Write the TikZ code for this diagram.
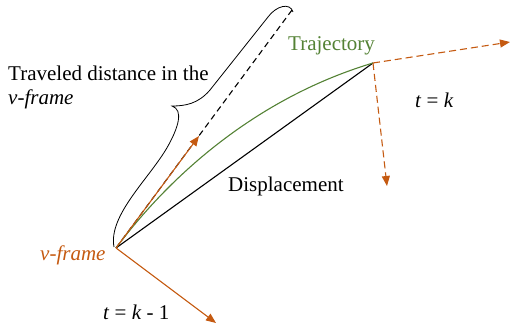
\documentclass[tikz,border=0pt]{standalone}
\usepackage{fontspec}
\setmainfont{Liberation Serif}[ItalicFont={Liberation Serif Italic}, BoldFont={Liberation Serif Bold}]
\usetikzlibrary{arrows.meta}
\definecolor{orng}{HTML}{C55A11}
\definecolor{grn}{HTML}{548235}
\tikzset{
  lbl/.style={inner sep=0pt, font=\fontsize{21}{24}\selectfont, anchor=base west},
  oarrow/.style={draw=orng, line width=1.1pt, -{Triangle[length=10pt,width=8pt]}, orng},
  odash/.style={oarrow, dash pattern=on 7pt off 4pt},
  bdash/.style={draw=black, line width=1.1pt, dash pattern=on 6pt off 4pt},
}
\begin{document}
\begin{tikzpicture}[x=1pt,y=-1pt]
\useasboundingbox (0,0) rectangle (512,328);
\coordinate (O) at (116,248);
\coordinate (P) at (373,63);
\coordinate (A1) at (199,136);
\coordinate (D1) at (292,10);
\coordinate (A2) at (510,42);
\coordinate (A3) at (387,186);
\coordinate (A4) at (216,323);
% dashed travelled line
\draw[bdash] (O) -- (D1);
% displacement
\draw[line width=1.1pt] (O) -- (P);
% trajectory
\draw[grn, line width=1.1pt] (O) .. controls (176,168) and (263,96) .. (P);
% arrows
\draw[oarrow] (O) -- (A1);
\draw[oarrow] (O) -- (A4);
\draw[odash] (P) -- (A2);
\draw[odash] (P) -- (A3);
% brace
\draw[line width=0.8pt] (293,12) .. controls (290,2) and (276,6) .. (268,17) -- (210,90)
   .. controls (198,104) and (185,106) .. (172,106)
   .. controls (184,110) and (178,128) .. (168,146)
   .. controls (150,178) and (108,215) .. (114,247);
% labels
\node[lbl] (trav) at (8,81) {Traveled distance in the};
\node[lbl] (vf1) at (8,105) {\textit{v-frame}};
\node[lbl, text=grn] (traj) at (288,51) {Trajectory};
\node[lbl] (disp) at (228,192) {Displacement};
\node[lbl, text=orng] (vf2) at (40,261) {\textit{v-frame}};
\node[lbl] (tk) at (415,108) {\textit{t} = \textit{k}};
\node[lbl] (tk1) at (103,320) {\textit{t} = \textit{k} - 1};
\end{tikzpicture}
\end{document}
